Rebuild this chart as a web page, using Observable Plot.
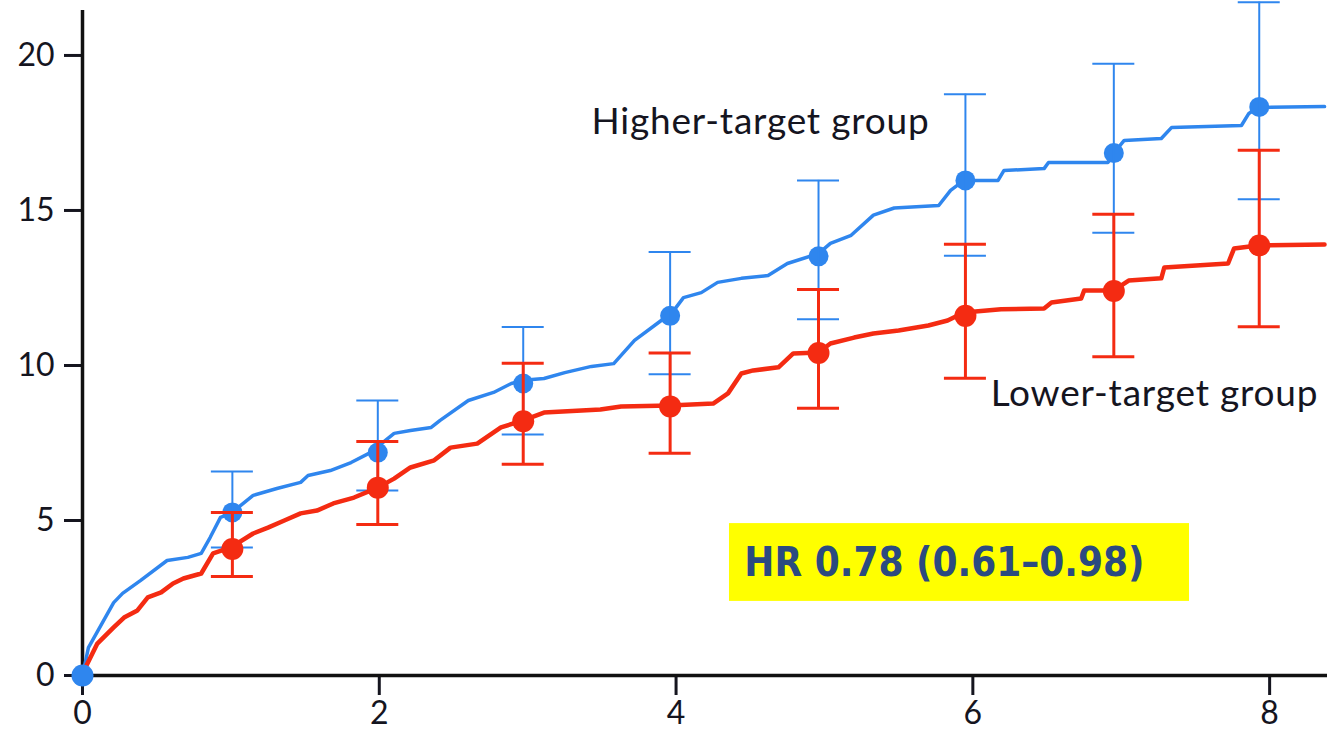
<!DOCTYPE html>
<html><head><meta charset="utf-8">
<script src="https://cdn.jsdelivr.net/npm/d3@7"></script>
<script src="https://cdn.jsdelivr.net/npm/@observablehq/plot@0.6"></script>
<style>body{margin:0;background:#fff;overflow:hidden}</style>
</head><body><div id="chart"></div>
<script>
// Cumulative curves (years, %)
const higherTime = [0,0.04,0.21,0.27,0.39,0.57,0.71,0.80,0.86,0.93,1.00,1.15,1.31,1.47,1.52,1.67,1.81,1.94,2.10,2.21,2.35,2.41,2.60,2.77,2.89,2.97,3.11,3.25,3.43,3.58,3.72,3.90,3.97,4.05,4.17,4.28,4.44,4.62,4.75,4.96,5.04,5.18,5.33,5.47,5.77,5.85,5.94,6.17,6.21,6.48,6.51,6.91,6.98,7.02,7.27,7.34,7.81,7.86,7.92,8.37];
const higherCum  = [0,0.90,2.35,2.65,3.06,3.71,3.81,3.94,4.45,5.10,5.23,5.81,6.03,6.23,6.45,6.61,6.87,7.19,7.81,7.90,8.00,8.23,8.87,9.13,9.42,9.52,9.58,9.77,9.97,10.06,10.81,11.45,11.68,12.19,12.35,12.68,12.81,12.90,13.29,13.61,13.94,14.20,14.85,15.08,15.16,15.65,15.97,15.97,16.29,16.35,16.55,16.55,17.03,17.26,17.32,17.68,17.74,18.13,18.32,18.35];
const lowerTime  = [0,0.01,0.10,0.21,0.28,0.37,0.44,0.53,0.61,0.68,0.80,0.88,1.00,1.15,1.25,1.36,1.47,1.58,1.69,1.83,1.99,2.10,2.21,2.37,2.48,2.66,2.82,2.97,3.11,3.49,3.63,3.96,4.25,4.35,4.44,4.52,4.69,4.79,4.96,5.04,5.20,5.33,5.50,5.70,5.83,5.94,6.19,6.48,6.53,6.73,6.75,6.95,7.05,7.27,7.29,7.72,7.76,7.92,8.37];
const lowerCum   = [0,0.16,1.03,1.55,1.87,2.10,2.52,2.68,2.97,3.13,3.29,3.94,4.13,4.58,4.77,5.00,5.23,5.32,5.55,5.74,6.06,6.35,6.71,6.94,7.35,7.48,8.00,8.23,8.48,8.58,8.68,8.71,8.77,9.10,9.74,9.84,9.94,10.39,10.42,10.71,10.90,11.03,11.13,11.29,11.45,11.71,11.81,11.84,12.03,12.16,12.42,12.42,12.74,12.81,13.16,13.29,13.77,13.87,13.90];

// Marker points with 95% CI
const pointTime = [0,1.01,1.99,2.97,3.96,4.96,5.95,6.95,7.93];
const higherPt  = [0,5.26,7.19,9.42,11.60,13.52,15.97,16.85,18.34];
const higherLo  = [null,4.13,5.97,7.77,9.72,11.49,13.54,14.28,15.36];
const higherHi  = [null,6.58,8.87,11.24,13.66,15.97,18.75,19.73,21.72];
const lowerPt   = [0,4.08,6.06,8.20,8.68,10.40,11.60,12.40,13.87];
const lowerLo   = [null,3.19,4.87,6.81,7.17,8.62,9.59,10.28,11.25];
const lowerHi   = [null,5.26,7.55,10.07,10.40,12.45,13.91,14.88,16.94];

const xTicks = [0,2,4,6,8];
const yTicks = [0,5,10,15,20];

// Labels
const seriesLabels = ["Higher-target group","Lower-target group"];
const labelX = [3.43,6.12];
const labelY = [17.86,9.08];
const hrText = "HR 0.78 (0.61–0.98)";
const hrBox = {x1:4.36, x2:7.46, y1:2.39, y2:4.90, tx:4.46, ty:3.62};

const BLUE = "#2f86ee", RED = "#f42b12";

const curve = (t,c) => t.map((v,i)=>({x:v,y:c[i]}));
const hiLine = curve(higherTime,higherCum);
const loLine = curve(lowerTime,lowerCum);
const pts = (p,lo,hi) => pointTime.map((t,i)=>({x:t,y:p[i],lo:lo[i],hi:hi[i]}));
const hiPts = pts(higherPt,higherLo,higherHi);
const loPts = pts(lowerPt,lowerLo,lowerHi);
const hiErr = hiPts.filter(d=>d.lo!=null);
const loErr = loPts.filter(d=>d.lo!=null);
const labels = seriesLabels.map((s,i)=>({s,x:labelX[i],y:labelY[i]}));

const errMarks = (data,color,w) => [
  Plot.ruleX(data,{x:"x",y1:"lo",y2:"hi",stroke:color,strokeWidth:w}),
  Plot.ruleY(data,{y:"hi",x1:"x",x2:"x",insetLeft:-21,insetRight:-21,stroke:color,strokeWidth:w}),
  Plot.ruleY(data,{y:"lo",x1:"x",x2:"x",insetLeft:-21,insetRight:-21,stroke:color,strokeWidth:w})
];

const chart = Plot.plot({
  width:1327, height:739,
  marginLeft:82, marginRight:0, marginTop:10, marginBottom:64,
  x:{domain:[0,8.39]},
  y:{domain:[0,21.45]},
  style:{fontFamily:"Lato, 'Open Sans', sans-serif", color:"#15151f", background:"#fff", overflow:"visible"},
  marks:[
    Plot.rect([hrBox],{x1:"x1",x2:"x2",y1:"y1",y2:"y2",fill:"#ffff00"}),
    Plot.text([hrBox],{x:"tx",y:"ty",text:()=>hrText,textAnchor:"start",fill:"#2b4a80",fontSize:40,fontWeight:"bold",fontFamily:"'Liberation Sans Narrow','DejaVu Sans Condensed','Open Sans',sans-serif"}),
    Plot.axisX({ticks:xTicks,tickSize:20,tickPadding:6,tickFormat:d=>String(d),fontSize:32,label:null,strokeWidth:3}),
    Plot.axisY({ticks:yTicks,tickSize:18,tickPadding:10,tickFormat:d=>String(d),fontSize:32,label:null,strokeWidth:3}),
    Plot.ruleX([0],{strokeWidth:3.5,stroke:"#111"}),
    Plot.ruleY([0],{strokeWidth:3.5,stroke:"#111"}),
    Plot.line(hiLine,{x:"x",y:"y",stroke:BLUE,strokeWidth:3.5}),
    Plot.dot(hiPts,{x:"x",y:"y",r:10,fill:BLUE}),
    ...errMarks(hiErr,BLUE,2),
    Plot.line(loLine,{x:"x",y:"y",stroke:RED,strokeWidth:4.5}),
    ...errMarks(loErr,RED,3),
    Plot.dot(loPts.filter(d=>d.x>0),{x:"x",y:"y",r:11,fill:RED}),
    Plot.dot(hiPts.filter(d=>d.x===0),{x:"x",y:"y",r:11,fill:BLUE}),
    Plot.text(labels,{x:"x",y:"y",text:"s",textAnchor:"start",fontSize:37,fill:"#15151f"})
  ]
});
// widen the series labels' letter spacing to match the reference typeface
chart.querySelectorAll("text").forEach(t => {
  if (seriesLabels.includes(t.textContent)) t.setAttribute("letter-spacing", "0.8");
});
document.getElementById("chart").append(chart);
</script>
</body></html>
